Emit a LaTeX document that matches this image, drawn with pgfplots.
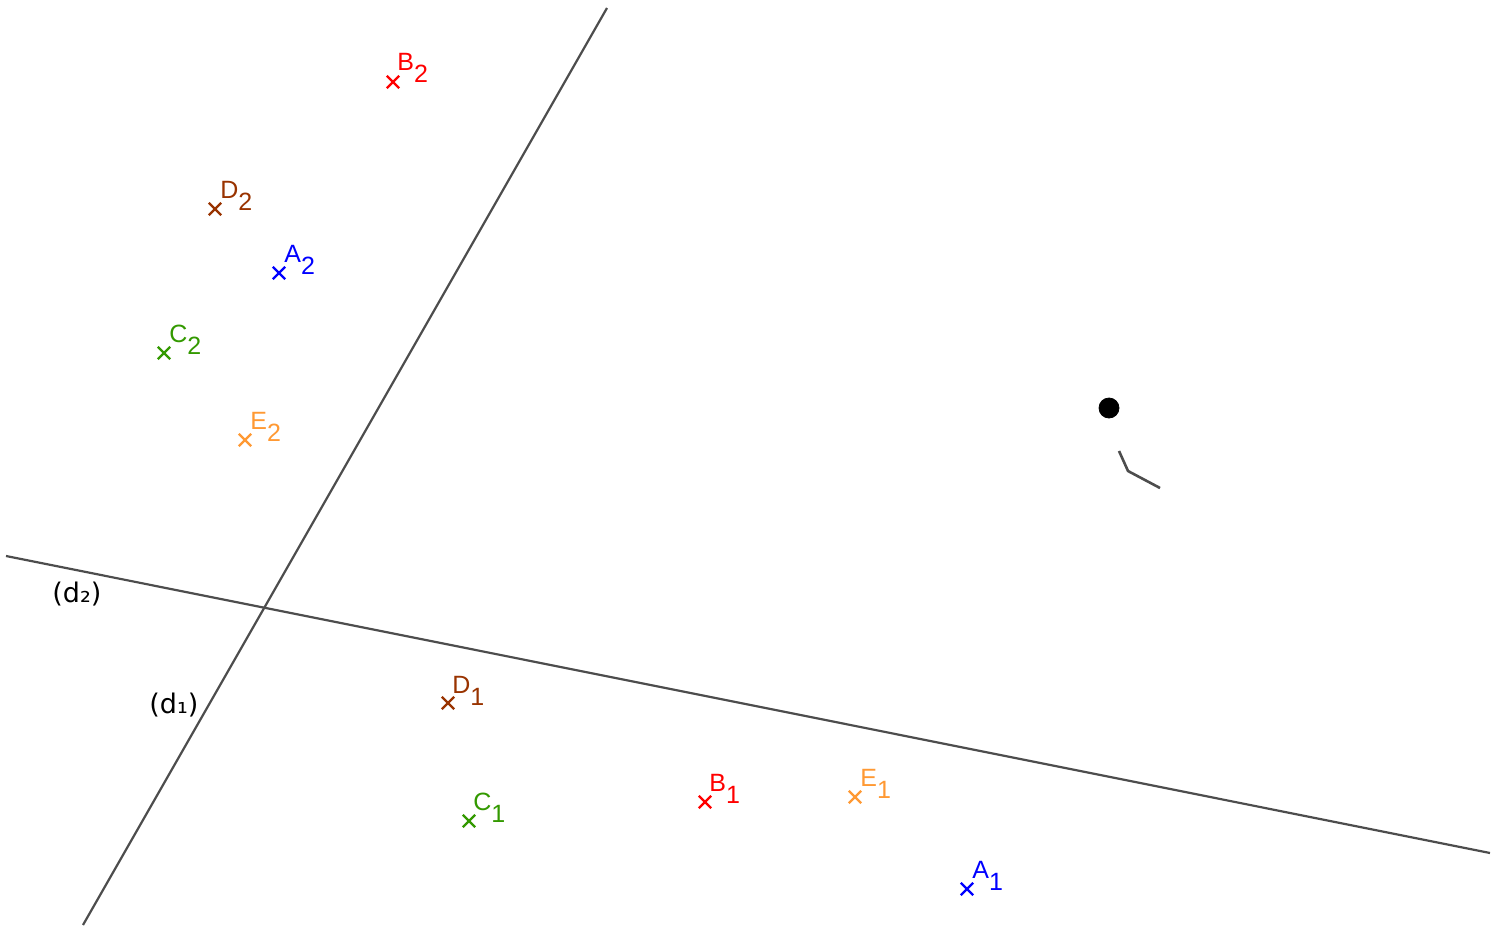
\documentclass[border=0pt]{standalone}
\usepackage{pgfplots}
\pgfplotsset{compat=1.18}
\usepackage{fontspec}
\setmainfont{Liberation Sans}
\newfontfamily\dvs{DejaVu Sans}

\definecolor{ggblue}{RGB}{0,0,255}
\definecolor{ggred}{RGB}{255,0,0}
\definecolor{ggbrown}{RGB}{153,51,0}
\definecolor{gggreen}{RGB}{51,153,0}
\definecolor{ggorange}{RGB}{255,153,51}
\definecolor{ggline}{RGB}{77,77,77}

% point label: letter, subscript lowered
\newcommand{\plab}[2]{#1\raisebox{-6pt}{#2}}

\begin{document}
\begin{tikzpicture}[
    ptmark/.style={only marks, mark=x, mark size=4.4pt, line width=1.2pt},
    lab/.style={anchor=base west, font=\fontsize{12.5}{14}\selectfont, inner sep=0pt},
  ]
\begin{axis}[
    scale only axis,
    width=749pt, height=462.5pt,
    xmin=0, xmax=1498, ymin=0, ymax=925,
    y dir=reverse,
    hide axis,
    clip=false,
  ]
  \draw[draw=none] (rel axis cs:0,0) rectangle (rel axis cs:1,1);

  % lines (d1) and (d2)
  \addplot[ggline, line width=1.1pt] coordinates {(607,8) (83,925)};
  \addplot[ggline, line width=1.1pt] coordinates {(6,556) (1490,853)};

  % dot and small polyline
  \addplot[only marks, mark=*, mark size=5pt, black] coordinates {(1109,408)};
  \addplot[ggline, line width=1.3pt] coordinates {(1119,451) (1128,471) (1160,488)};

  % points
  \addplot[ptmark, ggblue]   coordinates {(279,273) (967,889)};
  \addplot[ptmark, ggred]    coordinates {(393,82) (705,802)};
  \addplot[ptmark, ggbrown]  coordinates {(215,209) (448,703)};
  \addplot[ptmark, gggreen]  coordinates {(164,353) (469,821)};
  \addplot[ptmark, ggorange] coordinates {(245,440) (855,797)};

  % labels
  \node[lab, ggblue]   at (axis cs:284,262) {\plab{A}{2}};
  \node[lab, ggblue]   at (axis cs:972,878) {\plab{A}{1}};
  \node[lab, ggred]    at (axis cs:397,70)  {\plab{B}{2}};
  \node[lab, ggred]    at (axis cs:709,791) {\plab{B}{1}};
  \node[lab, ggbrown]  at (axis cs:220,198) {\plab{D}{2}};
  \node[lab, ggbrown]  at (axis cs:452,693) {\plab{D}{1}};
  \node[lab, gggreen]  at (axis cs:169,342) {\plab{C}{2}};
  \node[lab, gggreen]  at (axis cs:473,810) {\plab{C}{1}};
  \node[lab, ggorange] at (axis cs:250,429) {\plab{E}{2}};
  \node[lab, ggorange] at (axis cs:860,786) {\plab{E}{1}};

  \node[anchor=base west, inner sep=0pt, font=\dvs\fontsize{13.5}{16}\selectfont] at (axis cs:52,602) {(d₂)};
  \node[anchor=base west, inner sep=0pt, font=\dvs\fontsize{13.5}{16}\selectfont] at (axis cs:149,713) {(d₁)};
\end{axis}
\end{tikzpicture}
\end{document}
